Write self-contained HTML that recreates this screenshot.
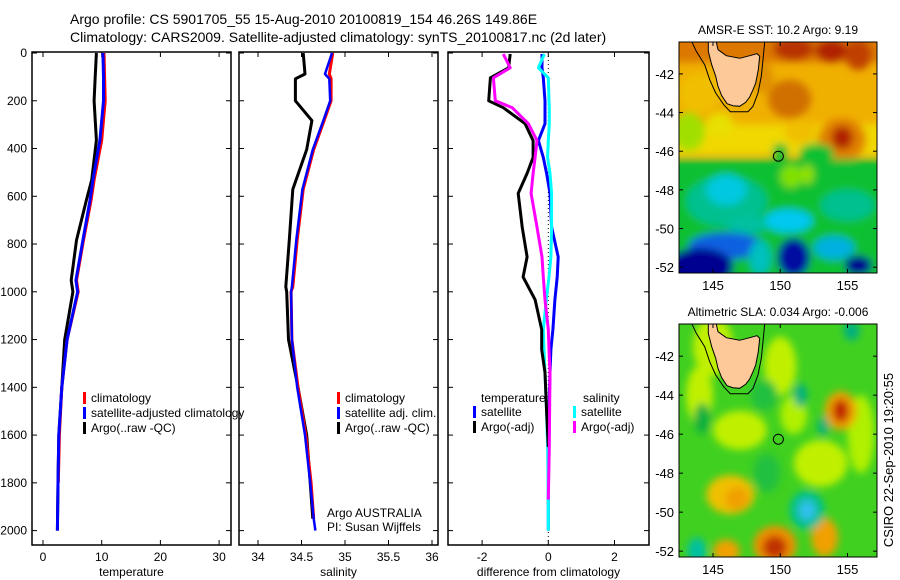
<!DOCTYPE html>
<html><head><meta charset="utf-8"><style>
body{margin:0;background:#fff;}
svg{display:block;font-family:"Liberation Sans",sans-serif;}
</style></head><body>
<svg id="fig" width="900" height="580" viewBox="0 0 900 580">
<defs>
<filter id="blur" x="-20%" y="-20%" width="140%" height="140%"><feGaussianBlur stdDeviation="4"/></filter>
<clipPath id="clipA"><rect x="679" y="42" width="198" height="231"/></clipPath>
<clipPath id="clipB"><rect x="679" y="324" width="198" height="233"/></clipPath>
</defs>
<text x="70" y="24" font-size="14">Argo profile: CS 5901705_55 15-Aug-2010 20100819_154 46.26S 149.86E</text>
<text x="70" y="42" font-size="14">Climatology: CARS2009. Satellite-adjusted climatology: synTS_20100817.nc (2d later)</text>
<g id="g"></g>
</svg>
<script>
// ---- data ----
const depthTicks=[0,200,400,600,800,1000,1200,1400,1600,1800,2000];
const tempTicks=[0,10,20,30];
const salTicks=[34,34.5,35,35.5,36];
const diffTicks=[-2,0,2];
const tDepth=[0,100,200,365,532,616,784,952,1000,1200,1400,1600,1800,2000];
const tClim=[10.4,10.5,10.6,10.0,8.7,8.2,6.9,5.7,6.0,4.1,3.2,2.8,2.6,null];
const tSat=[10.2,10.3,10.3,9.7,8.5,8.0,6.8,5.6,5.9,4.1,3.2,2.7,2.55,2.45];
const tArgo=[9.1,8.9,8.7,9.1,8.3,7.4,5.7,4.8,5.1,3.7,3.2,2.7,2.55,2.45];
const sDepth=[0,88,108,200,283,404,571,783,979,1000,1200,1400,1600,1800,1950,2000];
const sClim=[34.86,34.82,34.84,34.84,34.76,34.64,34.52,34.45,34.40,34.38,34.39,34.46,34.55,34.61,34.64,null];
const sSat=[34.85,34.77,34.82,34.83,34.75,34.63,34.51,34.44,34.39,34.38,34.39,34.45,34.54,34.60,34.64,34.66];
const sArgo=[34.52,34.54,34.43,34.43,34.62,34.56,34.40,34.36,34.32,34.33,34.35,34.46,34.56,34.60,34.63,null];
const dDepth=[4,62,104,200,229,296,367,437,504,588,729,854,938,1033,1158,1242,1338,1500,1650,1870,2000];
const dTArgo=[-1.15,-1.2,-1.75,-1.8,-1.36,-0.7,-0.46,-0.46,-0.64,-0.91,-0.79,-0.64,-0.76,-0.4,-0.2,-0.2,-0.1,-0.05,0,null,null];
const dSArgo=[-1.36,-1.15,-1.66,-1.6,-1.09,-0.6,-0.34,-0.4,-0.46,-0.52,-0.34,-0.19,-0.15,-0.1,0,0.02,0.05,0.04,0.03,0,null];
const dTSat=[-0.19,-0.19,-0.15,-0.1,-0.1,-0.1,-0.3,-0.15,-0.05,0.05,0.1,0.3,0.27,0.2,0.14,0.08,0.05,0.02,0,0,0];
const dSSat=[-0.12,-0.3,0,0.02,0.03,0.03,0,-0.02,0.05,0.1,0.1,0.08,0.02,-0.06,-0.15,-0.13,-0.1,-0.05,-0.02,0,0];
const lonTicks=[145,150,155];
const latTicks=[-42,-44,-46,-48,-50,-52];
// ---- helpers ----
const NS='http://www.w3.org/2000/svg';
const G=document.getElementById('g');
function mk(tag,attrs,parent){const e=document.createElementNS(NS,tag);for(const k in attrs)e.setAttribute(k,attrs[k]);(parent||G).appendChild(e);return e;}
const yD=d=>53+d*0.2388;
const xT=v=>43+v*5.87;
const xS=v=>258+(v-34)*87;
const xDf=v=>548.3+v*33.1;
function panel(x0,x1,xf,ticks,lab,name){
  const r=mk('rect',{x:x0,y:52,width:x1-x0,height:493,fill:'none',stroke:'#000','stroke-width':1.5});
  
  
  depthTicks.forEach(d=>{
    mk('line',{x1:x0,x2:x0+5,y1:yD(d),y2:yD(d),stroke:'#000'});
    mk('line',{x1:x1-5,x2:x1,y1:yD(d),y2:yD(d),stroke:'#000'});
  });
  ticks.forEach(t=>{
    const x=xf(t);
    mk('line',{x1:x,x2:x,y1:52,y2:57,stroke:'#000'});
    mk('line',{x1:x,x2:x,y1:540,y2:545,stroke:'#000'});
    const tx=mk('text',{x:x,y:561,'font-size':12,'text-anchor':'middle'});
    tx.textContent=t;
    
    
  });
  const xl=mk('text',{x:(x0+x1)/2,y:576,'font-size':12,'text-anchor':'middle'});
  xl.textContent=lab;
  
  
}
function line(ds,vs,xf,col,w,name){
  let pts=[];
  ds.forEach((d,i)=>{if(vs[i]!==null)pts.push(xf(vs[i]).toFixed(1)+','+yD(d).toFixed(1));});
  const p=mk('polyline',{points:pts.join(' '),fill:'none',stroke:col,'stroke-width':w,'stroke-linejoin':'round'});
  
  
}
function text(x,y,s,name,opts){const t=mk('text',Object.assign({x:x,y:y,'font-size':12},opts||{}));t.textContent=s;return t;}
function legendEntry(x,y,col,s,name){
  const r=mk('rect',{x:x,y:y-10,width:3,height:12,fill:col});
  
  
  text(x+8,y,s,name);
}
depthTicks.forEach(d=>text(27,yD(d)+4,d,'y-tick-label',{'text-anchor':'end'}));
panel(32,231,xT,tempTicks,'temperature','temperature-panel');
panel(239,438,xS,salTicks,'salinity','salinity-panel');
panel(448,649,xDf,diffTicks,'difference from climatology','difference-panel');
line(tDepth,tArgo,xT,'#000',3,'temp-argo-line');
line(tDepth,tClim,xT,'#f00',3,'temp-climatology-line');
line(tDepth,tSat,xT,'#00f',3,'temp-satellite-line');
line(sDepth,sArgo,xS,'#000',3,'sal-argo-line');
line(sDepth,sClim,xS,'#f00',3,'sal-climatology-line');
line(sDepth,sSat,xS,'#00f',2.5,'sal-satellite-line');
const zl=mk('line',{x1:xDf(0),x2:xDf(0),y1:52,y2:545,stroke:'#000','stroke-dasharray':'1,3'});


line(dDepth,dTSat,xDf,'#00f',3,'diff-temp-satellite-line');
line(dDepth,dSSat,xDf,'#0ff',3,'diff-sal-satellite-line');
line(dDepth,dTArgo,xDf,'#000',3,'diff-temp-argo-line');
line(dDepth,dSArgo,xDf,'#f0f',3,'diff-sal-argo-line');
legendEntry(83,402,'#f00','climatology','legend-climatology');
legendEntry(83,417,'#00f','satellite-adjusted climatology','legend-satellite-adjusted');
legendEntry(83,432,'#000','Argo(..raw -QC)','legend-argo');
legendEntry(337,402,'#f00','climatology','legend2-climatology');
legendEntry(337,417,'#00f','satellite adj. clim.','legend2-satellite');
legendEntry(337,432,'#000','Argo(..raw -QC)','legend2-argo');
text(481,402,'temperature','legend3-temperature-heading');
text(583,402,'salinity','legend3-salinity-heading');
legendEntry(473,416,'#00f','satellite','legend3-temp-satellite');
legendEntry(473,431,'#000','Argo(-adj)','legend3-temp-argo');
legendEntry(573,416,'#0ff','satellite','legend3-sal-satellite');
legendEntry(573,431,'#f0f','Argo(-adj)','legend3-sal-argo');
text(327,517,'Argo AUSTRALIA','credit-argo-australia');
text(327,531,'PI: Susan Wijffels','credit-pi');
// ---- maps ----
function map(y0,h,clip,base,blobs,title,name){
  const x0=679,w=198;
  const lx=l=>713+(l-145)*13.45;
  const ly=l=>y0+(-40.35-l)*(h/11.95);
  const grp=mk('g',{'clip-path':'url(#'+clip+')'});
  
  
  mk('rect',{x:x0,y:y0,width:w,height:h,fill:base},grp);
  const bg=mk('g',{filter:'url(#blur)'},grp);
  blobs.forEach(b=>{
    if(b[0]==='r'){mk('rect',{x:x0-20,y:ly(b[1]),width:w+40,height:ly(b[2])-ly(b[1]),fill:b[3]},bg);}
    else mk('ellipse',{cx:lx(b[0]),cy:ly(b[1]),rx:b[2]*13.45,ry:b[3]*(h/11.95),fill:b[4]},bg);
  });
  const tas=[[176,97],[200,97],[205,120],[230,138],[270,146],[300,138],[322,132],[330,140],[326,180],[318,220],[310,240],[300,262],[288,278],[270,290],[250,288],[232,282],[216,258],[205,230],[198,200],[186,165],[176,125]];
  const shelf=[[127,97],[140,125],[165,165],[180,210],[198,250],[222,285],[242,306],[295,306],[310,290],[325,250],[335,200],[340,150],[345,97]];
  const cv=p=>(x0+(p[0]-88)/3).toFixed(1)+','+(y0+(p[1]-97)/3).toFixed(1);
  const sh=mk('polyline',{points:shelf.map(cv).join(' '),fill:'none',stroke:'#000','stroke-width':1},grp);
  
  
  const tp=mk('polygon',{points:tas.map(cv).join(' '),fill:'#fdc998',stroke:'#000','stroke-width':1},grp);
  
  
  const c=mk('circle',{cx:lx(149.86),cy:ly(-46.26),r:5,fill:'none',stroke:'#000','stroke-width':1},grp);
  
  
  const fr=mk('rect',{x:x0,y:y0,width:w,height:h,fill:'none',stroke:'#000'});
  
  
  latTicks.forEach(l=>{
    mk('line',{x1:x0,x2:x0+4,y1:ly(l),y2:ly(l),stroke:'#000'});
    mk('line',{x1:x0+w-4,x2:x0+w,y1:ly(l),y2:ly(l),stroke:'#000'});
    text(674,ly(l)+5,l,name+'-lat-label',{'text-anchor':'end','font-size':13});
  });
  lonTicks.forEach(l=>{
    mk('line',{x1:lx(l),x2:lx(l),y1:y0,y2:y0+4,stroke:'#000'});
    mk('line',{x1:lx(l),x2:lx(l),y1:y0+h-4,y2:y0+h,stroke:'#000'});
    text(lx(l),y0+h+17,l,name+'-lon-label',{'text-anchor':'middle','font-size':13});
  });
  text(x0+w/2,y0-8,title,name+'-title',{'text-anchor':'middle','font-size':12});
}
map(42,231,'clipA','#f0b000',[
 ['r',-39.5,-41.4,'#dc7800'],
 [151,-40.7,1.5,0.6,'#b83000'],[153.8,-40.8,1.2,0.6,'#b02000'],[155.8,-41,1,0.8,'#c04000'],
 [150.7,-43.3,1.6,1,'#d07000'],[148.7,-42.2,0.8,0.8,'#e09000'],[144,-43,1.5,1,'#f0c000'],
 ['r',-44.6,-46.2,'#f0d800'],[143.2,-45,1.2,1,'#a0e000'],[145.5,-44.6,1,0.6,'#e8e000'],[151.5,-45,1.2,0.6,'#f0c000'],
 [154.6,-45.4,1.8,1.1,'#e08000'],[154.6,-45.3,0.8,0.6,'#b02000'],
 ['r',-46.4,-53,'#10c030'],[150,-46,0.6,0.4,'#10c030'],[152.7,-46.1,1.3,0.5,'#10c030'],
 [150.8,-47.3,0.8,0.6,'#80e000'],[152,-47.2,0.5,0.5,'#90e000'],
 [146,-48.6,3,1.3,'#00c090'],[146,-48,1.5,0.8,'#00c8e0'],[150.6,-49.6,1.8,0.6,'#00c8f0'],[155,-48.8,2,0.8,'#00c090'],[147.5,-49.8,1.5,0.5,'#00c0a0'],
 [146,-50.9,2.8,0.7,'#1060e0'],[144,-52,2.5,1,'#000090'],[151,-51.5,1.2,1,'#0010a0'],[148.5,-51.5,0.8,0.9,'#00c0c0'],[155.8,-51.9,1,0.5,'#000090'],[154,-51,1.5,0.6,'#00b0e0']
],'AMSR-E SST: 10.2 Argo: 9.19','sst-map');
map(324,233,'clipB','#40d020',[
 [145,-41.5,1.5,1.5,'#c0f000'],[144,-44,1,1.5,'#c0f000'],[150,-42.5,1.2,1.5,'#c0f000'],[147,-45.8,2,1,'#c0f000'],[153,-47.5,2,1.2,'#c0f000'],[156,-46,1,2,'#b0f000'],[151,-45,1,1,'#b0f000'],
 [144.2,-45.2,0.6,0.8,'#10b040'],[149,-48,1,1,'#20c040'],[148.8,-44,1,0.8,'#20c040'],
 [146.3,-49.1,1.8,1,'#f0c000'],[146.8,-49.3,0.9,0.6,'#f0a000'],
 [154.5,-44.8,1.2,1,'#f0a000'],[154.5,-44.8,0.6,0.6,'#c02000'],
 [149.6,-51.7,1.6,1,'#f09000'],[149.6,-51.8,0.9,0.6,'#c03000'],
 [153.3,-51.3,1,1,'#f0a000'],[146,-52,1,0.6,'#f0a000'],
 [152,-49.9,1.3,1,'#00c090'],[152,-49.9,0.6,0.5,'#30c0f0'],
 [151.5,-44,0.5,0.6,'#00b080'],[153.2,-45.6,0.4,0.5,'#00b080'],[155.3,-40.7,0.6,0.5,'#00b080'],[143.8,-52,0.7,0.7,'#00c0a0']
],'Altimetric SLA: 0.034 Argo: -0.006','sla-map');
text(0,0,'CSIRO 22-Sep-2010 19:20:55','timestamp',{'font-size':13,'text-anchor':'middle',transform:'translate(893,460) rotate(-90)'});
</script>
</body></html>
